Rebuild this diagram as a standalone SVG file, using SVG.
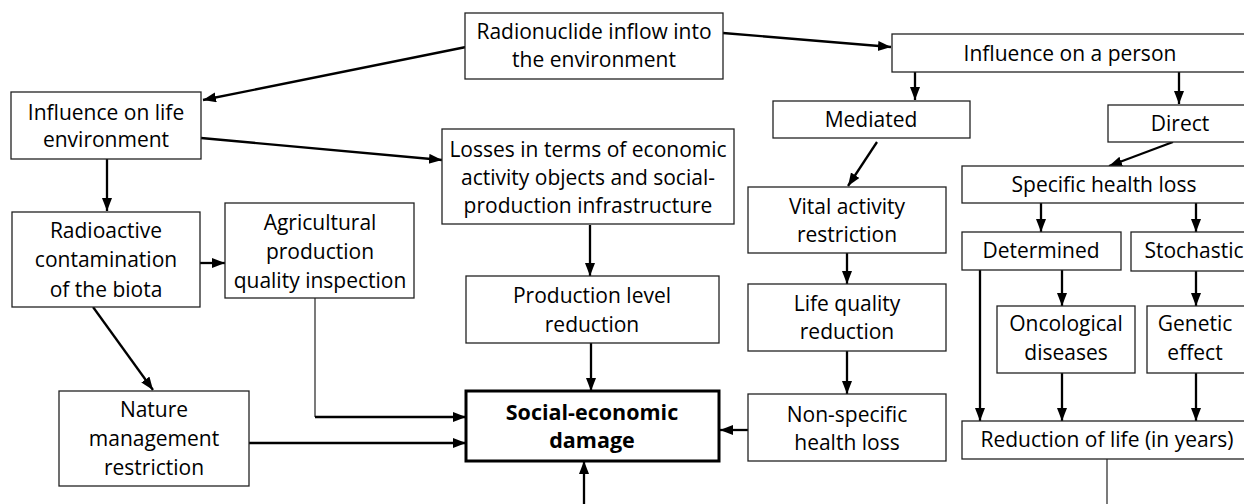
<svg xmlns="http://www.w3.org/2000/svg" width="1244" height="504" viewBox="0 0 1244 504">
<style>
.box{fill:#fff;stroke:#222;stroke-width:1.3}
.main{fill:#fff;stroke:#000;stroke-width:3}
text{font-family:"Open Sans","Liberation Sans",sans-serif;font-size:21px;fill:#000;text-anchor:middle}
.b{font-weight:bold;font-size:21.5px}
.c{fill:none;stroke:#000;stroke-width:2.3}
.t{fill:none;stroke:#333;stroke-width:1.3}
</style>
<defs>
<marker id="ah" markerUnits="userSpaceOnUse" markerWidth="14" markerHeight="12" refX="13" refY="5" orient="auto">
<path d="M0,0 L13,5 L0,10 Z" fill="#000"/>
</marker>
</defs>
<rect width="1244" height="504" fill="#fff"/>
<g id="connectors">
<path class="c" d="M466,47 L203,100" marker-end="url(#ah)"/>
<path class="c" d="M723,33 L891,47" marker-end="url(#ah)"/>
<path class="c" d="M915,72 L915,100" marker-end="url(#ah)"/>
<path class="c" d="M1179,72 L1179,104" marker-end="url(#ah)"/>
<path class="c" d="M1173,142 L1109,166" marker-end="url(#ah)"/>
<path class="c" d="M877,142 L848,186" marker-end="url(#ah)"/>
<path class="c" d="M1041,203 L1041,232" marker-end="url(#ah)"/>
<path class="c" d="M1196,203 L1196,232" marker-end="url(#ah)"/>
<path class="c" d="M847,253 L847,284" marker-end="url(#ah)"/>
<path class="c" d="M847,351 L847,394" marker-end="url(#ah)"/>
<path class="c" d="M748,430 L720,430" marker-end="url(#ah)"/>
<path class="c" d="M591,343 L591,391" marker-end="url(#ah)"/>
<path class="c" d="M584,504 L584,461" marker-end="url(#ah)"/>
<path class="c" d="M590,225 L590,276" marker-end="url(#ah)"/>
<path class="c" d="M201,138 L442,160" marker-end="url(#ah)"/>
<path class="c" d="M107,159 L107,211" marker-end="url(#ah)"/>
<path class="c" d="M200,263 L225,263" marker-end="url(#ah)"/>
<path class="t" d="M315,298 L315,417"/>
<path class="c" d="M315,417 L466,417" marker-end="url(#ah)"/>
<path class="c" d="M93,307 L153,390" marker-end="url(#ah)"/>
<path class="c" d="M249,443 L466,443" marker-end="url(#ah)"/>
<path class="c" d="M980,270 L980,421" marker-end="url(#ah)"/>
<path class="c" d="M1062,270 L1062,306" marker-end="url(#ah)"/>
<path class="c" d="M1196,271 L1196,306" marker-end="url(#ah)"/>
<path class="c" d="M1062,373 L1062,421" marker-end="url(#ah)"/>
<path class="c" d="M1196,373 L1196,421" marker-end="url(#ah)"/>
<path class="t" d="M1107,459 L1107,504"/>
</g>
<g id="radionuclide"><rect class="box" x="465" y="13" width="258" height="66"/><text x="594" y="39">Radionuclide inflow into</text><text x="594" y="67">the environment</text></g>
<g id="influence-life"><rect class="box" x="11" y="92" width="190" height="67"/><text x="106" y="120">Influence on life</text><text x="106" y="147">environment</text></g>
<g id="influence-person"><rect class="box" x="892" y="34" width="362" height="38"/><text x="1070" y="61">Influence on a person</text></g>
<g id="mediated"><rect class="box" x="773" y="101" width="197" height="37"/><text x="871" y="127">Mediated</text></g>
<g id="direct"><rect class="box" x="1108" y="105" width="146" height="37"/><text x="1180" y="131">Direct</text></g>
<g id="losses"><rect class="box" x="442" y="129" width="292" height="95"/><text x="588" y="157">Losses in terms of economic</text><text x="588" y="185">activity objects and social-</text><text x="588" y="213">production infrastructure</text></g>
<g id="specific"><rect class="box" x="962" y="166" width="292" height="37"/><text x="1104" y="192">Specific health loss</text></g>
<g id="vital"><rect class="box" x="748" y="187" width="198" height="66"/><text x="847" y="214">Vital activity</text><text x="847" y="242">restriction</text></g>
<g id="radioactive"><rect class="box" x="12" y="212" width="188" height="95"/><text x="106" y="238">Radioactive</text><text x="106" y="267">contamination</text><text x="106" y="297">of the biota</text></g>
<g id="agricultural"><rect class="box" x="225" y="203" width="189" height="95"/><text x="320" y="230">Agricultural</text><text x="320" y="259">production</text><text x="320" y="288">quality inspection</text></g>
<g id="production"><rect class="box" x="466" y="276" width="253" height="67"/><text x="592" y="303">Production level</text><text x="592" y="332">reduction</text></g>
<g id="determined"><rect class="box" x="962" y="232" width="159" height="38"/><text x="1041" y="258">Determined</text></g>
<g id="stochastic"><rect class="box" x="1131" y="232" width="123" height="39"/><text x="1194" y="258">Stochastic</text></g>
<g id="life-quality"><rect class="box" x="748" y="284" width="198" height="67"/><text x="847" y="311">Life quality</text><text x="847" y="339">reduction</text></g>
<g id="oncological"><rect class="box" x="997" y="306" width="138" height="67"/><text x="1066" y="331">Oncological</text><text x="1066" y="360">diseases</text></g>
<g id="genetic"><rect class="box" x="1147" y="306" width="107" height="67"/><text x="1195" y="331">Genetic</text><text x="1195" y="360">effect</text></g>
<g id="social-economic"><rect class="main" x="466" y="391" width="253" height="70"/><text class="b" x="592" y="420">Social-economic</text><text class="b" x="592" y="448">damage</text></g>
<g id="non-specific"><rect class="box" x="748" y="394" width="198" height="67"/><text x="847" y="422">Non-specific</text><text x="847" y="450">health loss</text></g>
<g id="nature"><rect class="box" x="59" y="391" width="190" height="95"/><text x="154" y="417">Nature</text><text x="154" y="446">management</text><text x="154" y="475">restriction</text></g>
<g id="reduction-life"><rect class="box" x="962" y="421" width="292" height="38"/><text x="1107" y="447">Reduction of life (in years)</text></g>
</svg>
